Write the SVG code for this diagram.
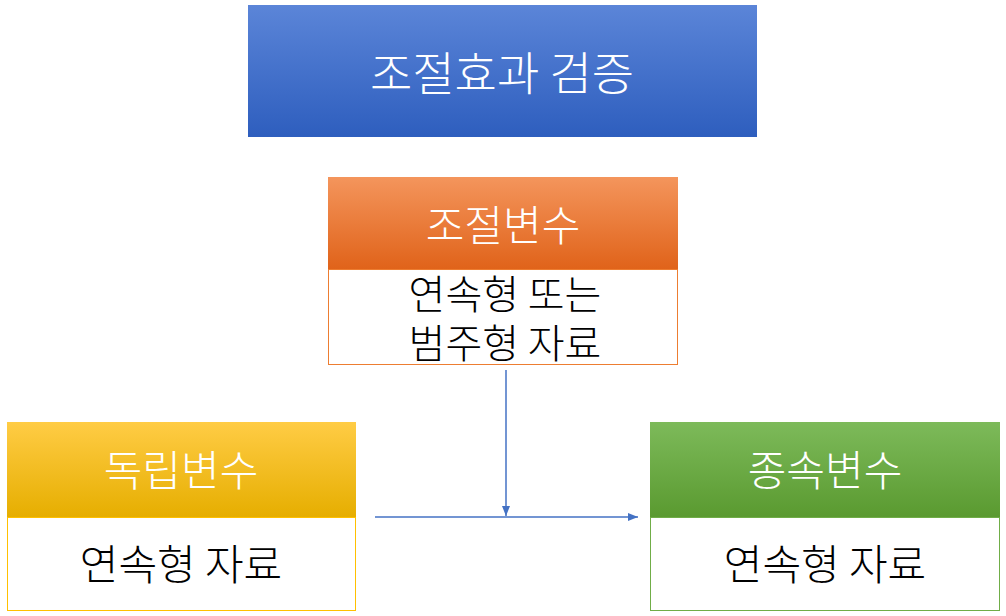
<svg xmlns="http://www.w3.org/2000/svg" width="1006" height="616" viewBox="0 0 1006 616">
<defs>
<linearGradient id="gb" x1="0" y1="0" x2="0" y2="1"><stop offset="0" stop-color="#5B85D8"/><stop offset="1" stop-color="#2E5EBE"/></linearGradient>
<linearGradient id="go" x1="0" y1="0" x2="0" y2="1"><stop offset="0" stop-color="#F4955C"/><stop offset="1" stop-color="#E0631A"/></linearGradient>
<linearGradient id="gy" x1="0" y1="0" x2="0" y2="1"><stop offset="0" stop-color="#FFCC45"/><stop offset="1" stop-color="#E6AE00"/></linearGradient>
<linearGradient id="gg" x1="0" y1="0" x2="0" y2="1"><stop offset="0" stop-color="#7DBA5A"/><stop offset="1" stop-color="#5A9A30"/></linearGradient>
<marker id="ar" viewBox="0 0 10 10" refX="10" refY="5" markerWidth="7" markerHeight="7" orient="auto"><path d="M0,1 L10,5 L0,9 Z" fill="#4472C4"/></marker>
</defs>
<style>
text{font-family:"Noto Sans CJK KR",sans-serif;text-anchor:middle;dominant-baseline:central;font-weight:300}
.w{fill:#fff;font-size:42px}
.t{font-size:46px}
.b{fill:#000;font-size:42px}
.m{font-size:40px}
.c{stroke:#4472C4;stroke-width:1.5;fill:none;marker-end:url(#ar)}
</style>
<rect width="1006" height="616" fill="#fff"/>
<g id="title"><rect x="248" y="5" width="509" height="132" fill="url(#gb)"/><text class="w t" x="502" y="70">조절효과 검증</text></g>
<g id="moderator"><rect x="328" y="177" width="350" height="92" fill="url(#go)"/><text class="w" x="503" y="222">조절변수</text>
<rect x="328.5" y="269.5" width="349" height="95" fill="#fff" stroke="#ED7D31"/><text class="b m" x="505" y="292">연속형 또는</text><text class="b m" x="505" y="341">범주형 자료</text></g>
<g id="independent"><rect x="7" y="422" width="349" height="95" fill="url(#gy)"/><text class="w" x="181" y="467">독립변수</text>
<rect x="7.5" y="517.5" width="348" height="93" fill="#fff" stroke="#FFC000"/><text class="b" x="181" y="561">연속형 자료</text></g>
<g id="dependent"><rect x="650" y="422" width="350" height="95" fill="url(#gg)"/><text class="w" x="825" y="467">종속변수</text>
<rect x="650.5" y="517.5" width="349" height="93" fill="#fff" stroke="#70AD47"/><text class="b" x="825" y="561">연속형 자료</text></g>
<g id="connectors"><path class="c" d="M506,370 V516"/><path class="c" d="M375,517 H638"/></g>
</svg>
